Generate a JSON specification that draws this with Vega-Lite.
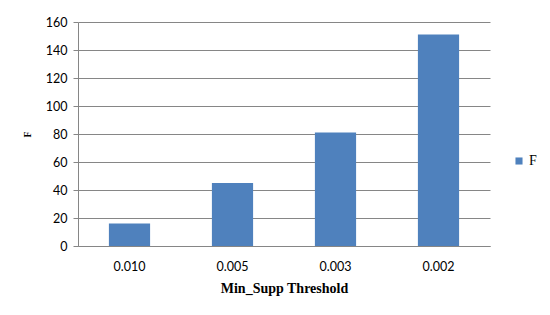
{
  "$schema": "https://vega.github.io/schema/vega-lite/v6.json",
  "width": 412,
  "height": 224,
  "autosize": "none",
  "padding": {"left": 78, "top": 22, "right": 60, "bottom": 69},
  "background": "white",
  "data": {
    "values": [
      {"threshold": "0.010", "F": 16, "series": "F"},
      {"threshold": "0.005", "F": 45, "series": "F"},
      {"threshold": "0.003", "F": 81, "series": "F"},
      {"threshold": "0.002", "F": 151, "series": "F"}
    ]
  },
  "mark": {"type": "bar"},
  "encoding": {
    "x": {
      "field": "threshold",
      "type": "ordinal",
      "sort": null,
      "scale": {"paddingInner": 0.6, "paddingOuter": 0.3},
      "axis": {
        "title": "Min_Supp Threshold",
        "titleFont": "Liberation Serif",
        "titleFontSize": 14,
        "titleFontWeight": "bold",
        "titleColor": "#000000",
        "titlePadding": 9,
        "labelAngle": 0,
        "labelFont": "Lato",
        "labelFontSize": 12.5,
        "labelColor": "#000000",
        "labelPadding": 14,
        "ticks": false,
        "domainColor": "#868686",
        "domainWidth": 1
      }
    },
    "y": {
      "field": "F",
      "type": "quantitative",
      "scale": {"domain": [0, 160]},
      "axis": {
        "title": "F",
        "titleFont": "Liberation Serif",
        "titleFontSize": 10,
        "titleFontWeight": "bold",
        "titleColor": "#000000",
        "titleAngle": -90,
        "titleX": -51,
        "titleY": 112,
        "titleAlign": "center",
        "titleBaseline": "middle",
        "values": [0, 20, 40, 60, 80, 100, 120, 140, 160],
        "labelFont": "Lato",
        "labelFontSize": 12.5,
        "labelColor": "#000000",
        "labelPadding": 6,
        "tickSize": 5,
        "tickColor": "#868686",
        "domainColor": "#868686",
        "gridColor": "#868686",
        "gridWidth": 1
      }
    },
    "color": {
      "field": "series",
      "type": "nominal",
      "scale": {"range": ["#4F81BD"]},
      "legend": {
        "title": null,
        "orient": "none",
        "legendX": 434,
        "legendY": 132,
        "symbolType": "square",
        "symbolSize": 50,
        "symbolStrokeWidth": 0,
        "labelFont": "Liberation Serif",
        "labelFontSize": 14,
        "labelColor": "#000000",
        "labelOffset": 3
      }
    }
  },
  "config": {
    "view": {"stroke": null}
  }
}
